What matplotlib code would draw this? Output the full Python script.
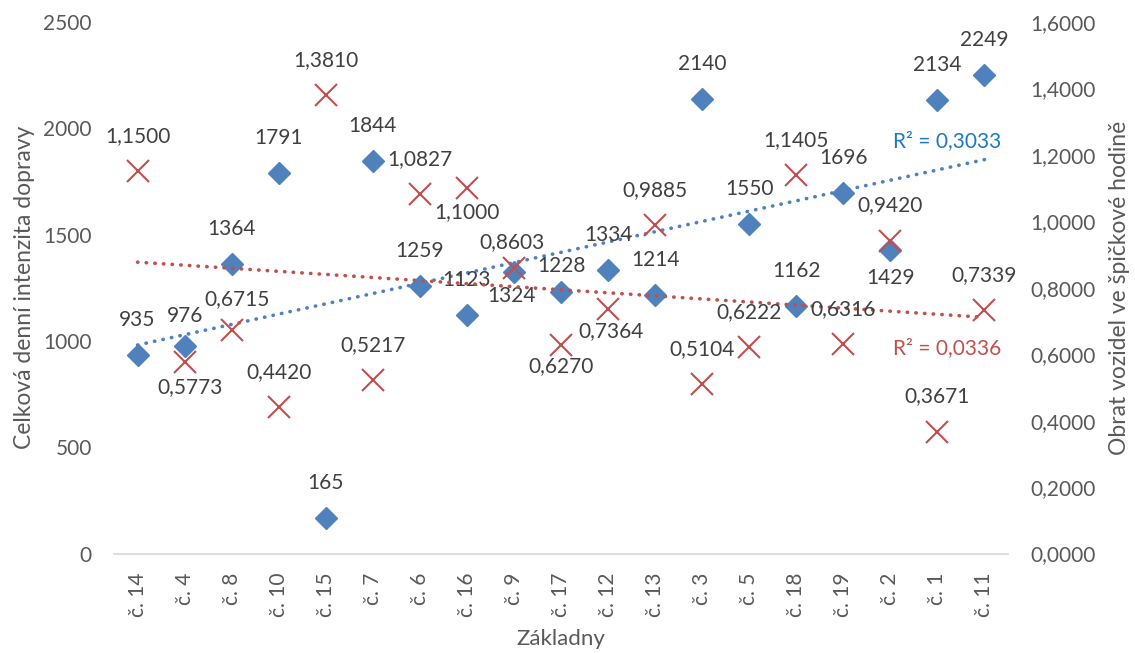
import matplotlib
matplotlib.use("Agg")
import matplotlib.pyplot as plt
import numpy as np
from matplotlib.ticker import FuncFormatter

plt.rcParams['font.family'] = ['Lato', 'DejaVu Sans']

# data
zakladny = ['č. 14', 'č. 4', 'č. 8', 'č. 10', 'č. 15', 'č. 7', 'č. 6', 'č. 16', 'č. 9',
            'č. 17', 'č. 12', 'č. 13', 'č. 3', 'č. 5', 'č. 18', 'č. 19', 'č. 2', 'č. 1', 'č. 11']
intenzita = [935, 976, 1364, 1791, 165, 1844, 1259, 1123, 1324,
             1228, 1334, 1214, 2140, 1550, 1162, 1696, 1429, 2134, 2249]
obrat = [1.1500, 0.5773, 0.6715, 0.4420, 1.3810, 0.5217, 1.0827, 1.1000, 0.8603,
         0.6270, 0.7364, 0.9885, 0.5104, 0.6222, 1.1405, 0.6316, 0.9420, 0.3671, 0.7339]
left_ticks = [0, 500, 1000, 1500, 2000, 2500]
right_ticks = [0.0, 0.2, 0.4, 0.6, 0.8, 1.0, 1.2, 1.4, 1.6]

BLUE = '#4F81BD'
RED = '#C0504D'
TICK = '#595959'
LABEL = '#404040'
FS = 15

# label offsets in pixels (dx, dy, up = negative), default is above the marker
blue_off = {1: (0, -30), 8: (-2, 24), 9: (0, -26), 16: (0, 28)}
red_off = {1: (5, 25), 2: (5, -31), 7: (0, 24), 8: (-2, -26), 9: (0, 21), 10: (3, 22)}

fig = plt.figure(figsize=(11.35, 6.53), dpi=100)
ax = fig.add_axes([114 / 1135, 99.5 / 653, 894 / 1135, 531.5 / 653])
ax2 = ax.twinx()

x = np.arange(len(zakladny))

ax.plot(x, intenzita, 'D', ms=11.5, color=BLUE, mec=BLUE, zorder=3)
ax2.plot(x, obrat, 'x', ms=16, mew=1.5, color=RED, zorder=3)

# linear trendlines (Excel style, x = 1..n)
def trend(vals):
    k, q = np.polyfit(x + 1, vals, 1)
    fitted = k * (x + 1) + q
    r2 = np.corrcoef(x + 1, vals)[0, 1] ** 2
    return fitted, r2

fit_b, r2_b = trend(intenzita)
fit_r, r2_r = trend(obrat)
ax.plot(x, fit_b, color=BLUE, lw=2.6, ls=(0, (0.1, 2.3)), dash_capstyle='round', zorder=2)
ax2.plot(x, fit_r, color=RED, lw=2.6, ls=(0, (0.1, 2.3)), dash_capstyle='round', zorder=2)

px = 72 / 100
ax.annotate('R² = ' + f'{r2_b:.4f}'.replace('.', ','), (x[-1], fit_b[-1]),
            xytext=(-37 * px, 19 * px), textcoords='offset points',
            ha='center', va='center', fontsize=FS, color='#1E78C8')
ax2.annotate('R² = ' + f'{r2_r:.4f}'.replace('.', ','), (x[-1], fit_r[-1]),
             xytext=(-37 * px, -31 * px), textcoords='offset points',
             ha='center', va='center', fontsize=FS, color=RED)

# data labels
for i, v in enumerate(intenzita):
    dx, dy = blue_off.get(i, (0, -35))
    ax.annotate(str(v), (x[i], v), xytext=(dx * px, -dy * px), textcoords='offset points',
                ha='center', va='center', fontsize=FS, color=LABEL, zorder=4)
for i, v in enumerate(obrat):
    dx, dy = red_off.get(i, (0, -35))
    ax2.annotate(f'{v:.4f}'.replace('.', ','), (x[i], v), xytext=(dx * px, -dy * px),
                 textcoords='offset points', ha='center', va='center',
                 fontsize=FS, color=LABEL, zorder=4)

ax.set_xlim(-0.5, len(zakladny) - 0.5)
ax.set_ylim(0, 2500)
ax2.set_ylim(0, 1.6)
ax.set_yticks(left_ticks)
ax2.set_yticks(right_ticks)
ax2.yaxis.set_major_formatter(FuncFormatter(lambda v, p: f'{v:.4f}'.replace('.', ',')))
ax.set_xticks(x, zakladny, rotation=90)

for a in (ax, ax2):
    for s in a.spines.values():
        s.set_visible(False)
    a.tick_params(length=0, labelsize=FS, labelcolor=TICK)
ax.spines['bottom'].set_visible(True)
ax.spines['bottom'].set_color('#D9D9D9')
ax.spines['bottom'].set_linewidth(1.2)
ax.tick_params(axis='y', pad=16)
ax2.tick_params(axis='y', pad=16)
ax.tick_params(axis='x', pad=14)

ax.set_xlabel('Základny', fontsize=FS + 1, color=TICK, labelpad=8)
ax.set_ylabel('Celková denní intenzita dopravy', fontsize=FS + 1.5, color=TICK, labelpad=6)
ax2.set_ylabel('Obrat vozidel ve špičkové hodině', fontsize=FS + 1.5, color=TICK, labelpad=10)

fig.savefig('out.png', dpi=100)
